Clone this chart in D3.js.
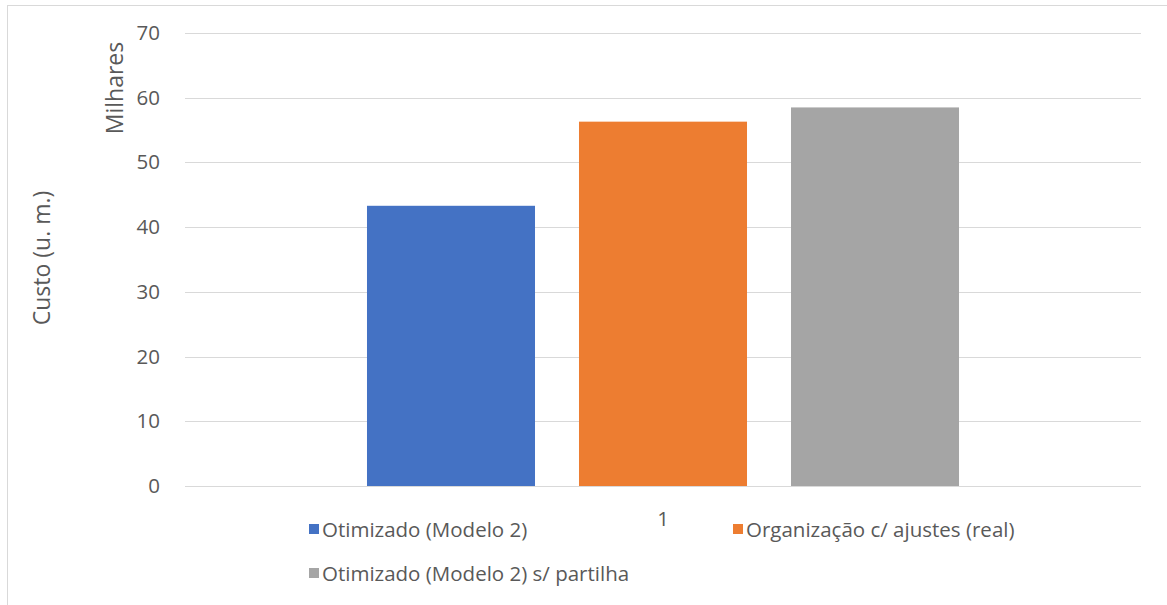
<!DOCTYPE html>
<html><head><meta charset="utf-8">
<script src="https://cdn.jsdelivr.net/npm/d3@7"></script>
<style>body{margin:0;background:#fff}svg{display:block}text{font-family:"Open Sans",sans-serif;fill:#595959}</style>
</head><body><svg id="c" width="1167" height="605"></svg>
<script>
const categories = ["1"];
const seriesNames = ["Otimizado (Modelo 2)", "Organização c/ ajustes (real)", "Otimizado (Modelo 2) s/ partilha"];
const seriesValues = [43.3, 56.3, 58.5];
const seriesColors = ["#4472C4", "#ED7D31", "#A5A5A5"];
const yTicks = [0, 10, 20, 30, 40, 50, 60, 70];

const FONT = "'Open Sans',sans-serif";
const svg = d3.select("#c");
svg.append("rect").attr("x", 7.5).attr("y", 5.5).attr("width", 1200).attr("height", 700)
  .attr("fill", "#fff").attr("stroke", "#d9d9d9");

const L = 185, R = 1141, T = 33, B = 486;
const y = d3.scaleLinear().domain([0, 70]).range([B, T]);
const x0 = d3.scaleBand().domain(categories).range([L, R]).paddingInner(0).paddingOuter(0.3074);
const x1 = d3.scaleBand().domain(seriesNames).range([0, x0.bandwidth()]).paddingInner(0.2075).paddingOuter(0);

svg.append("g").selectAll("line").data(yTicks).join("line")
  .attr("x1", L).attr("x2", R).attr("y1", d => Math.round(y(d)) + 0.5).attr("y2", d => Math.round(y(d)) + 0.5)
  .attr("stroke", "#d9d9d9").attr("stroke-width", 1);

const yAxis = d3.axisLeft(y).tickValues(yTicks).tickSize(0).tickPadding(0);
const ga = svg.append("g").attr("transform", `translate(${L - 25},0)`).call(yAxis);
ga.select(".domain").remove();
ga.selectAll("text").style("font-size", "20.5px").attr("fill", "#595959").style("font-family", FONT);

const g = svg.append("g");
categories.forEach(c => {
  g.selectAll("rect.bar").data(seriesNames.map((s, i) => ({s, v: seriesValues[i], col: seriesColors[i]}))).join("rect")
    .attr("class", "bar")
    .attr("x", d => x0(c) + x1(d.s)).attr("width", x1.bandwidth())
    .attr("y", d => y(d.v)).attr("height", d => y(0) - y(d.v)).attr("fill", d => d.col);
});

const xAxis = d3.axisBottom(x0).tickSize(0).tickPadding(0);
const gx = svg.append("g").attr("transform", `translate(0,${B + 25})`).call(xAxis);
gx.select(".domain").remove();
gx.selectAll("text").style("font-size", "20.5px").attr("fill", "#595959").style("font-family", FONT);

svg.append("text").attr("transform", "translate(117,88) rotate(-90)").attr("text-anchor", "middle")
  .attr("dominant-baseline", "middle").style("font-size", "23px").text("Milhares");
svg.append("text").attr("transform", "translate(44,258) rotate(-90)").attr("text-anchor", "middle")
  .attr("dominant-baseline", "middle").style("font-size", "23px").text("Custo (u. m.)");

const legPos = [[309, 529], [733, 529], [309, 573]];
const lg = svg.append("g").selectAll("g").data(seriesNames).join("g")
  .attr("transform", (d, i) => `translate(${legPos[i][0]},${legPos[i][1]})`);
lg.append("rect").attr("x", 0).attr("y", -5).attr("width", 10).attr("height", 10).attr("fill", (d, i) => seriesColors[i]);
lg.append("text").attr("x", 13).attr("y", 0).attr("dominant-baseline", "central").style("font-size", "20.5px").text(d => d);
</script></body></html>
